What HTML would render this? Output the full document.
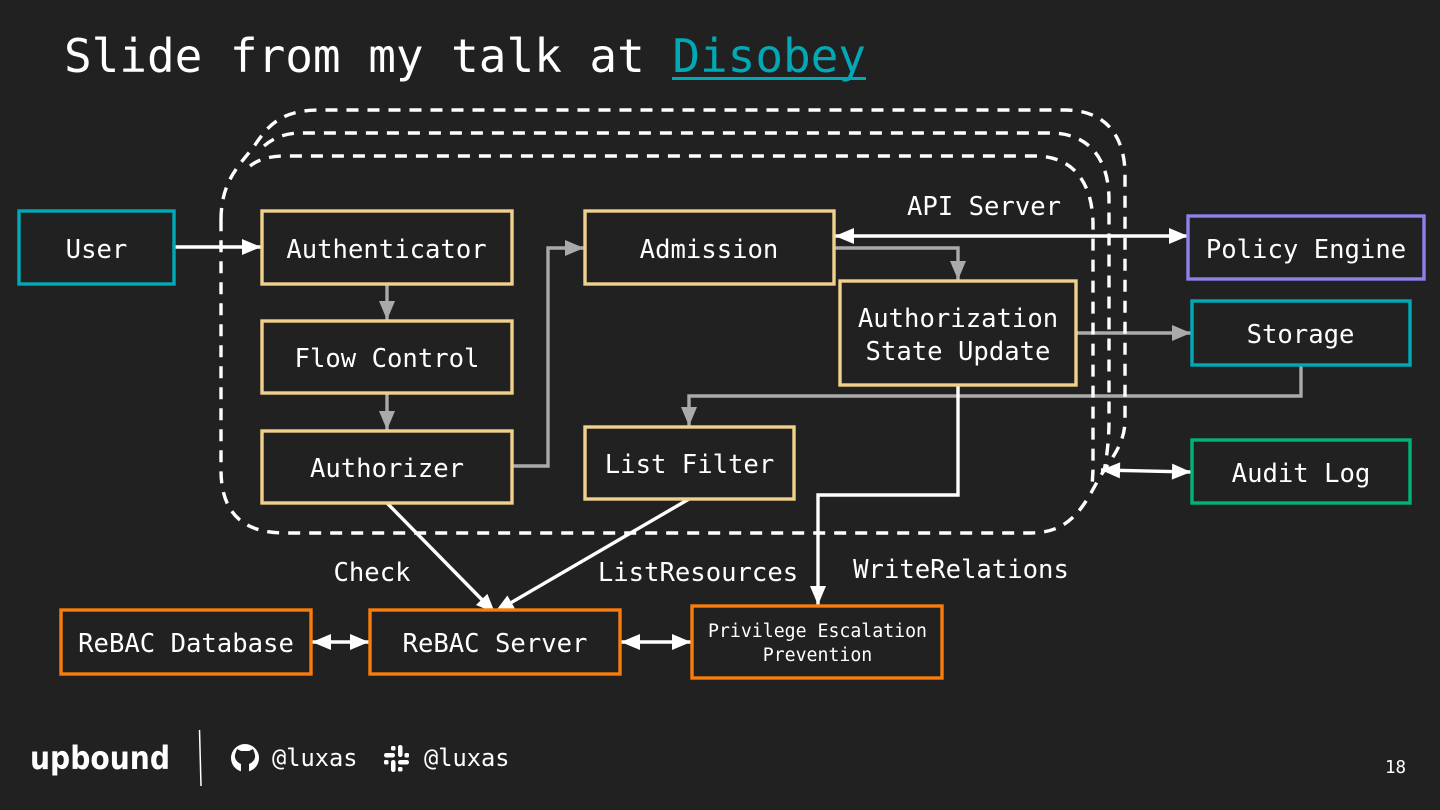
<!DOCTYPE html>
<html><head><meta charset="utf-8"><style>
html,body{margin:0;padding:0;background:#212121}
svg{display:block}
text{font-family:"DejaVu Sans Mono","Liberation Mono",monospace;fill:#fff;text-anchor:middle}
.b{fill:#212121;stroke-width:3.4}
.c{stroke:#f1d08c}.t{stroke:#00a9b5}.o{stroke:#f97c0c}
.l{font-size:25.6px}
.w{fill:none;stroke:#fff;stroke-width:3.4}
.g{fill:none;stroke:#aaaaaa;stroke-width:3.4}
.d{fill:none;stroke:#fff;stroke-width:3.4;stroke-dasharray:12 9}
</style></head><body>
<svg width="1440" height="810" viewBox="0 0 1440 810" xmlns="http://www.w3.org/2000/svg">
<defs>
<marker id="aw" markerUnits="userSpaceOnUse" markerWidth="22" markerHeight="20" viewBox="0 0 22 20" refX="20" refY="10" orient="auto-start-reverse"><path d="M1 2L20 10L1 18z" fill="#fff"/></marker>
<marker id="ag" markerUnits="userSpaceOnUse" markerWidth="22" markerHeight="20" viewBox="0 0 22 20" refX="20" refY="10" orient="auto-start-reverse"><path d="M1 2L20 10L1 18z" fill="#aaaaaa"/></marker>
</defs>
<rect width="1440" height="810" fill="#212121"/>
<text x="64" y="72" style="text-anchor:start;font-size:46px" textLength="802">Slide from my talk at <tspan fill="#00a9b5">Disobey</tspan></text>
<rect x="672" y="77" width="194" height="3" fill="#00a9b5"/>

<path class="g" d="M834 248H958V280" marker-end="url(#ag)"/>
<path class="g" d="M1076 333H1191" marker-end="url(#ag)"/>
<path class="g" d="M1301 365V396H689V426" marker-end="url(#ag)"/>
<path class="g" d="M512 466H548V248H584" marker-end="url(#ag)"/>
<path class="g" d="M387 284V320" marker-end="url(#ag)"/>
<path class="g" d="M387 393V430" marker-end="url(#ag)"/>

<path class="d" d="M221 220C221 180 240 165 255 145C270 122 285 110 320 110H1065C1105 110 1125 135 1125 175V420C1125 445 1110 460 1098 480C1080 515 1065 533 1030 533H285C240 533 221 510 221 470Z"/>
<path class="d" d="M264 146C272 139 284 133 300 133H1050C1090 133 1109 160 1109 200V420C1109 440 1107 455 1104 472"/>
<path class="d" d="M250 166C258 160 268 156 285 156H1035C1075 156 1093 185 1093 225V470L1092 488"/>

<path class="w" d="M174 247H261" marker-end="url(#aw)"/>
<path class="w" d="M835 236H1188" marker-start="url(#aw)" marker-end="url(#aw)"/>
<path class="w" d="M1101 470L1191 472" marker-start="url(#aw)" marker-end="url(#aw)"/>
<path class="w" d="M958 385V495H818V605" marker-end="url(#aw)"/>
<path class="w" d="M387 503L495 613" marker-end="url(#aw)"/>
<path class="w" d="M689 499L495 612" marker-end="url(#aw)"/>
<path class="w" d="M312 642H369" marker-start="url(#aw)" marker-end="url(#aw)"/>
<path class="w" d="M621 642H691" marker-start="url(#aw)" marker-end="url(#aw)"/>

<rect class="b t" x="19" y="211" width="155" height="73"/>
<rect class="b c" x="262" y="211" width="250" height="73"/>
<rect class="b c" x="262" y="321" width="250" height="72"/>
<rect class="b c" x="262" y="431" width="250" height="72"/>
<rect class="b c" x="585" y="211" width="249" height="73"/>
<rect class="b c" x="840" y="281" width="236" height="104"/>
<rect class="b c" x="585" y="427" width="209" height="72"/>
<rect class="b" style="stroke:#8c82ea" x="1188" y="216" width="236" height="63"/>
<rect class="b t" x="1192" y="301" width="218" height="64"/>
<rect class="b" style="stroke:#00b379" x="1192" y="440" width="218" height="63"/>
<rect class="b o" x="61" y="610" width="250" height="64"/>
<rect class="b o" x="370" y="610" width="250" height="64"/>
<rect class="b o" x="692" y="606" width="250" height="72"/>

<text class="l" x="96.500" y="258">User</text>
<text class="l" x="386.500" y="258">Authenticator</text>
<text class="l" x="387" y="367">Flow Control</text>
<text class="l" x="387" y="477">Authorizer</text>
<text class="l" x="709" y="258">Admission</text>
<text class="l" x="958" y="327">Authorization</text>
<text class="l" x="958" y="360">State Update</text>
<text class="l" x="689.500" y="473">List Filter</text>
<text class="l" x="1306" y="258">Policy Engine</text>
<text class="l" x="1300.500" y="343">Storage</text>
<text class="l" x="1301" y="482">Audit Log</text>
<text class="l" x="186" y="652">ReBAC Database</text>
<text class="l" x="495" y="652">ReBAC Server</text>
<text style="font-size:18.200px" x="817.500" y="637">Privilege Escalation</text>
<text style="font-size:18.200px" x="817.500" y="661">Prevention</text>
<text class="l" x="984" y="215">API Server</text>
<text class="l" x="372" y="581">Check</text>
<text class="l" x="698" y="581">ListResources</text>
<text class="l" x="961" y="578">WriteRelations</text>

<text x="30" y="769" style="text-anchor:start;font-family:'DejaVu Sans',sans-serif;font-weight:bold;font-size:32px" textLength="140" lengthAdjust="spacingAndGlyphs">upbound</text>
<path d="M199.500 730L201 786" stroke="#fff" stroke-width="1.500" fill="none"/>
<circle cx="245" cy="758" r="14" fill="#fff"/>
<path d="M237 749L241 751H249L253 749L254.500 753Q256 757 254 760Q252 763 249 764V772.500H241V764Q238 763 236 760Q234 757 235.500 753Z" fill="#212121"/>
<path d="M236 766Q239 768.500 241 767.500V769.500Q238 770.500 235 767Z" fill="#fff"/>
<text x="272" y="766" style="text-anchor:start;font-size:23.700px">@luxas</text>
<g fill="#fff">
<rect x="384" y="753" width="11" height="4.500" rx="2.200"/><rect x="391" y="746" width="4.500" height="4.500" rx="1.500"/>
<rect x="398" y="745" width="4.500" height="12" rx="2.200"/><rect x="404.500" y="753" width="4.500" height="4.500" rx="1.500"/>
<rect x="398" y="760" width="11" height="4.500" rx="2.200"/><rect x="398" y="767" width="4.500" height="4.500" rx="1.500"/>
<rect x="391" y="760" width="4.500" height="12" rx="2.200"/><rect x="384" y="760" width="4.500" height="4.500" rx="1.500"/>
</g>
<text x="424" y="766" style="text-anchor:start;font-size:23.700px">@luxas</text>
<text x="1395.500" y="773" style="font-size:17.500px">18</text>
</svg>
</body></html>
